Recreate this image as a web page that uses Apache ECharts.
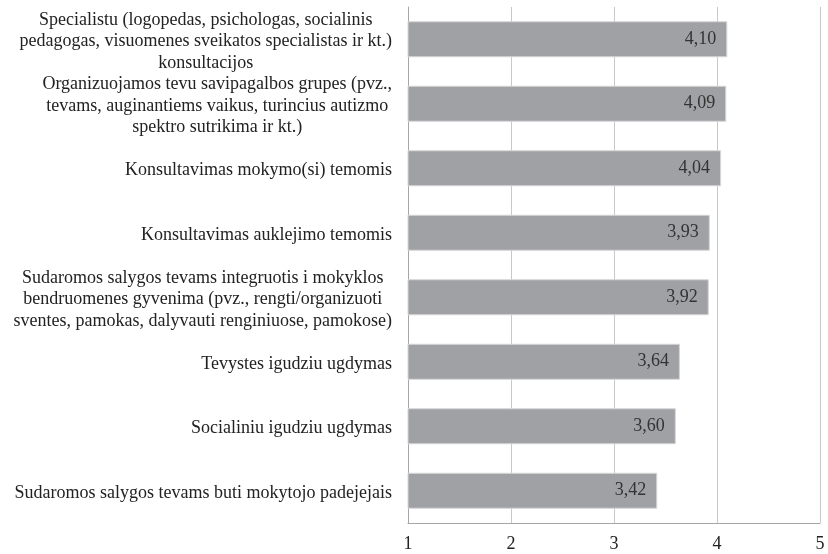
<!DOCTYPE html>
<html>
<head>
<meta charset="utf-8">
<script src="https://cdn.jsdelivr.net/npm/echarts@6/dist/echarts.min.js"></script>
<style>
  html, body { margin: 0; padding: 0; background: #fff; }
  #chart { width: 828px; height: 554px; }
</style>
</head>
<body>
<div id="chart"></div>
<script>
const categories = [
  'Specialistu (logopedas, psichologas, socialinis\npedagogas, visuomenes sveikatos specialistas ir kt.)\nkonsultacijos',
  'Organizuojamos tevu savipagalbos grupes (pvz.,\ntevams, auginantiems vaikus, turincius autizmo\nspektro sutrikima ir kt.)',
  'Konsultavimas mokymo(si) temomis',
  'Konsultavimas auklejimo temomis',
  'Sudaromos salygos tevams integruotis i mokyklos\nbendruomenes gyvenima (pvz., rengti/organizuoti\nsventes, pamokas, dalyvauti renginiuose, pamokose)',
  'Tevystes igudziu ugdymas',
  'Socialiniu igudziu ugdymas',
  'Sudaromos salygos tevams buti mokytojo padejejais'
]
const values = [4.10, 4.09, 4.04, 3.93, 3.92, 3.64, 3.60, 3.42]

const serif = '"Liberation Serif", "DejaVu Serif", serif'
const chart = echarts.init(document.getElementById('chart'))

chart.setOption({
  backgroundColor: '#fff',
  animation: false,
  grid: { left: 408, right: 8, top: 7, bottom: 31, containLabel: false },
  xAxis: {
    type: 'value',
    min: 1,
    max: 5,
    interval: 1,
    axisLine: { show: true, lineStyle: { color: '#a6a6a6', width: 1 } },
    axisTick: { show: false },
    axisLabel: { color: '#222', fontFamily: serif, fontSize: 18, margin: 12 },
    splitLine: { show: true, lineStyle: { color: '#c8c8c8', width: 1 } }
  },
  yAxis: {
    type: 'category',
    inverse: true,
    data: categories,
    axisLine: { show: true, lineStyle: { color: '#a6a6a6', width: 1 } },
    axisTick: { show: false },
    axisLabel: {
      interval: 0,
      color: '#222',
      fontFamily: serif,
      fontSize: 18,
      lineHeight: 21.5,
      margin: 16,
      align: 'right',
      padding: [5, 0, 0, 0],
      // keep each line centred inside the label block
      formatter: v => v.split('\n').map(l => '{c|' + l + '}').join('\n'),
      rich: { c: { align: 'center', fontFamily: serif, fontSize: 18, lineHeight: 21.5, color: '#222' } }
    }
  },
  series: [{
    type: 'bar',
    data: values,
    barWidth: 36,
    itemStyle: { color: '#a0a1a4', borderColor: '#d6d6d8', borderWidth: 1 },
    label: {
      show: true,
      position: 'insideRight',
      distance: 11,
      color: '#333',
      fontFamily: serif,
      fontSize: 18,
      formatter: p => p.value.toFixed(2).replace('.', ',')
    }
  }]
})
</script>
</body>
</html>
